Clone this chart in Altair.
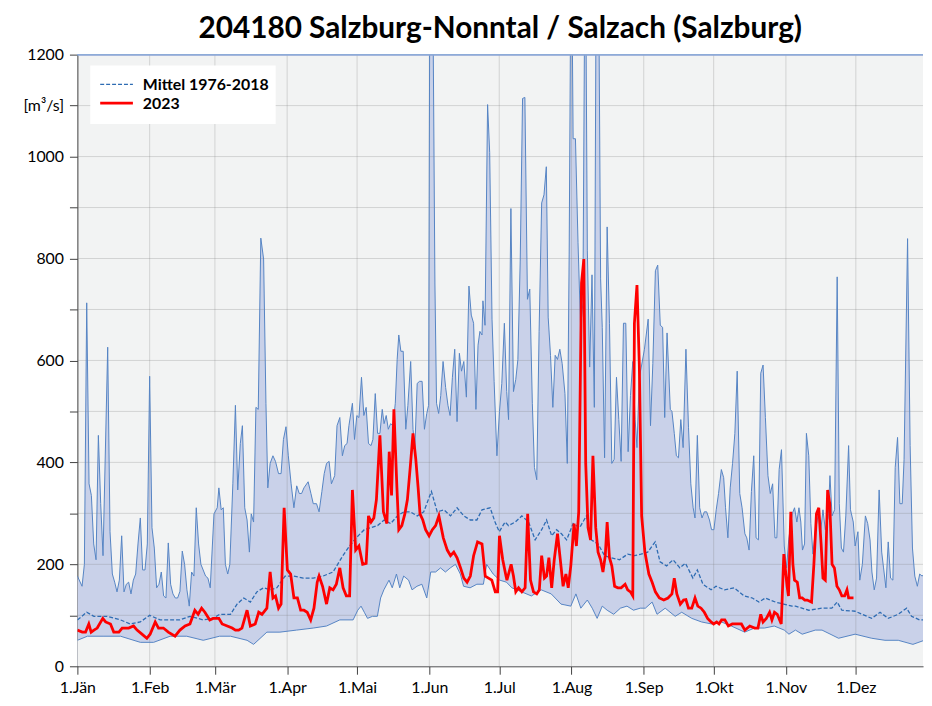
import altair as alt
import pandas as pd

TITLE = "204180 Salzburg-Nonntal / Salzach (Salzburg)"
MONTH_LABELS = ["1.Jän", "1.Feb", "1.Mär", "1.Apr", "1.Mai", "1.Jun",
                "1.Jul", "1.Aug", "1.Sep", "1.Okt", "1.Nov", "1.Dez"]
MONTH_DAYS = [0, 31, 59, 90, 120, 151, 181, 212, 243, 273, 304, 334]
Y_TICKS = list(range(0, 1201, 100))
UNIT_LABEL = "[m³/s]"
SERIES = ["Mittel 1976-2018", "2023"]

# Maximum 1976-2018 (day of year, m³/s)
max_day = [0, 2, 3, 4, 5, 6, 7, 8, 9, 10, 11, 13, 14, 15, 16, 17, 18, 19, 20, 21, 22, 23, 24, 25,
           26, 27, 28, 29, 30, 31, 32, 33, 34, 35, 36, 37, 38, 39, 40, 41, 42, 43, 44, 45, 46, 47,
           48, 49, 50, 51, 52, 53, 55, 56, 57, 58.6, 60, 60.7, 61.7, 62.6, 63.5, 64.5, 65.4, 66.7,
           67.8, 68.8, 69.9, 70.8, 71.8, 72.8, 73.8, 74.6, 75.6, 76.6, 77.6, 78.7, 79.9, 80.9, 81.7,
           82.7, 83.9, 85, 86.3, 87.4, 88.4, 89.5, 90.5, 91.7, 92.9, 94.1, 95.2, 96.2, 97.2, 99,
           100.2, 101.2, 102.6, 103.7, 104.9, 105.9, 106.9, 108, 109, 110.4, 111.4, 112.6, 113.7,
           114.7, 115.7, 116.5, 118, 118.9, 119.9, 120.8, 121.9, 122.9, 123.9, 124.9, 126, 126.8,
           127.8, 128.8, 129.8, 130.8, 131.6, 132.5, 133.4, 134.4, 135.4, 136.4, 137.2, 137.9,
           138.8, 139.8, 140.9, 141.8, 143, 144, 144.8, 145.8, 146.8, 147.9, 148.9, 149.9, 150.7,
           151.3, 152.4, 153.4, 154.1, 155, 155.9, 156.9, 158, 159, 159.9, 160.9, 161.9, 162.9,
           163.9, 164.8, 165.8, 166.9, 168, 169, 170, 171, 171.9, 172.7, 173.6, 174, 174.9, 176,
           176.9, 177.9, 178.8, 180, 181.1, 182.1, 183.2, 184.2, 185, 186, 187.1, 188.1, 189, 190,
           191, 192, 193.1, 194.1, 195.2, 196.1, 197.1, 198.1, 199.2, 200.2, 201.2, 202, 203, 204,
           205, 206, 207, 208, 209.2, 210.2, 211, 211.9, 212.7, 213.7, 214.8, 215.9, 216.9, 217.9,
           218.8, 219.8, 220.8, 221.8, 222.7, 223.6, 224.5, 225.2, 226.2, 227.3, 228.3, 229.3,
           230.3, 231.3, 232.3, 233.3, 234.3, 235.3, 236.3, 237.3, 238.3, 239.3, 240.1, 241.1,
           242.1, 243.3, 244.9, 245.9, 246.9, 248, 249, 250.1, 251.1, 252, 253, 254.4, 255.1,
           256.1, 257, 257.9, 258.9, 259.9, 261.1, 262.2, 263.2, 264.2, 265, 266, 267, 268, 269,
           270, 271.2, 272.1, 273.1, 274.1, 275.1, 276.3, 277.3, 278.1, 279.1, 280.1, 281.1, 282.1,
           283.1, 284.2, 285.2, 286.4, 287.2, 288.2, 289.2, 290.2, 291.2, 292.2, 293.2, 294.2,
           295.2, 296.3, 297.3, 298.3, 299.3, 300.1, 301.1, 302.1, 303.3, 304.3, 305.2, 306.1,
           306.7, 307.7, 308.7, 309.6, 310.4, 311.1, 312, 312.8, 313.8, 314.7, 315.6, 316.7, 318.1,
           318.9, 319.9, 320.9, 322.1, 322.9, 323.8, 324.9, 326, 326.9, 327.8, 328.7, 329.7, 330.9,
           331.7, 332.9, 333.7, 334.9, 335.7, 336.8, 338.1, 339.1, 340.1, 340.9, 341.9, 342.9, 344,
           345.1, 345.9, 346.9, 347.9, 348.9, 349.9, 350.9, 351.9, 352.9, 353.9, 354.7, 356.2,
           357.3, 358.3, 359.3, 360.4, 361.4, 362.4, 363.5, 364.7]
max_val = [177, 157, 200, 713, 358, 335, 240, 209, 453, 319, 217, 626, 264, 181, 165, 146, 169, 256,
           146, 161, 165, 142, 169, 181, 240, 291, 189, 189, 240, 569, 272, 232, 154, 161, 185, 138,
           134, 242, 161, 142, 134, 134, 147, 226, 200, 150, 118, 185, 177, 311, 240, 200, 177, 173,
           154, 299, 311, 350, 307, 311, 200, 181, 200, 358, 512, 346, 437, 472, 311, 287, 224, 299,
           283, 508, 504, 840, 799, 516, 350, 398, 413, 402, 378, 378, 445, 470, 413, 358, 311, 354,
           339, 339, 350, 362, 339, 319, 319, 303, 343, 378, 398, 402, 358, 374, 472, 488, 413, 433,
           437, 472, 516, 445, 492, 488, 567, 492, 508, 437, 433, 445, 535, 457, 457, 504, 476, 492,
           465, 476, 472, 516, 602, 650, 618, 618, 465, 512, 598, 465, 429, 555, 559, 559, 465, 496,
           512, 1500, 1400, 752, 516, 496, 531, 598, 547, 512, 492, 567, 622, 480, 614, 579, 598, 528,
           746, 689, 673, 504, 630, 657, 650, 717, 669, 1102, 1008, 681, 559, 413, 500, 555, 673, 539,
           484, 898, 539, 563, 602, 795, 1114, 1116, 720, 740, 516, 390, 366, 657, 909, 925, 980, 685,
           610, 508, 610, 602, 622, 594, 535, 398, 807, 1500, 1035, 1035, 831, 665, 713, 1500, 815,
           587, 768, 508, 1500, 1400, 760, 665, 409, 862, 673, 398, 406, 567, 484, 402, 673, 673, 421,
           531, 598, 484, 429, 567, 591, 622, 681, 472, 594, 776, 787, 669, 665, 488, 654, 504, 500,
           457, 413, 409, 484, 429, 622, 469, 358, 311, 291, 453, 311, 291, 303, 303, 287, 268, 268,
           307, 339, 386, 370, 311, 252, 350, 398, 457, 579, 339, 311, 260, 252, 228, 343, 413, 252,
           248, 575, 591, 488, 374, 339, 358, 252, 252, 386, 425, 236, 193, 248, 280, 299, 311, 283,
           311, 283, 228, 240, 457, 413, 280, 220, 268, 303, 264, 307, 268, 291, 374, 295, 307, 764,
           319, 232, 224, 295, 433, 307, 283, 236, 264, 169, 200, 295, 280, 248, 185, 150, 173, 346,
           224, 193, 154, 244, 173, 169, 390, 449, 319, 319, 406, 839, 433, 232, 177, 157, 181, 177,
           181, 193]

# Minimum 1976-2018
min_day = [0, 4.3, 11.4, 18.5, 27, 32.7, 39.8, 46.9, 54, 61, 65.7, 72.8, 75.6, 81.3, 86.9, 94,
           101.2, 106.9, 112.6, 118.3, 120.3, 121.7, 123.1, 124.5, 126.6, 128.7, 130.1, 131.5,
           133.7, 135.1, 136.9, 138.3, 140, 142.1, 143.6, 145.7, 147.8, 149.9, 151.6, 153.7, 155.8,
           157.9, 160, 162.2, 164.3, 165.7, 168.5, 171.4, 174.2, 175.6, 178.4, 181.2, 184.1, 186.4,
           190.6, 194.8, 199, 203.3, 207.5, 211.7, 213.9, 216, 218.8, 220.9, 223, 225.2, 227.3,
           230.1, 233, 235.8, 238.6, 241.5, 243.7, 246.6, 248.7, 252.2, 256.5, 259.3, 263.6, 267.8,
           272.1, 276.3, 280.6, 286.3, 290.5, 294.8, 299, 303.3, 305.3, 308.1, 311, 316.6, 319.5,
           326.6, 333.7, 340.8, 346.5, 352.2, 358.5, 363.4, 365]
min_val = [51, 59, 59, 59, 47, 47, 59, 59, 51, 59, 59, 51, 43, 67, 67, 71, 75, 79, 91, 91, 110,
           118, 106, 94, 98, 98, 134, 150, 169, 154, 181, 154, 177, 169, 150, 157, 161, 134, 185,
           185, 193, 185, 193, 200, 181, 157, 154, 161, 161, 200, 181, 169, 165, 154, 146, 138, 150,
           142, 122, 118, 142, 114, 130, 114, 94, 118, 110, 102, 114, 118, 110, 114, 114, 126, 102,
           114, 98, 106, 94, 87, 83, 87, 79, 67, 75, 75, 79, 71, 63, 71, 63, 71, 71, 55, 63, 55, 51,
           51, 43, 51, 51]

# Mittel 1976-2018
mean_day = [0, 4, 7.1, 12.8, 18.5, 22.7, 27, 31, 35.5, 39.8, 44, 48.3, 54, 58.2, 61, 62.8, 65.7,
            68.5, 71.4, 74.2, 77, 79.9, 82.7, 85.6, 89.1, 92.7, 96.9, 101.2, 105.4, 109.7, 113.9,
            116.8, 119.6, 123.1, 126, 128.8, 131.6, 134.4, 137.3, 140.1, 142.9, 145.8, 148.6, 151.9,
            154.4, 157.3, 160.1, 162.9, 165.8, 168.6, 171.4, 173.6, 177.1, 179.2, 181, 183.5, 185,
            187.9, 190.7, 193.6, 196.4, 199.2, 201.3, 203.5, 205.6, 207.7, 209.9, 212.7, 215.5,
            218.4, 220.5, 223.4, 226.2, 229, 232.6, 236.1, 239, 241.8, 244.7, 247.9, 250, 252.8,
            255.6, 258.5, 260.9, 264.1, 266, 268.4, 271.9, 274, 277.6, 281.8, 286.1, 289.6, 292.4,
            295.2, 299.5, 303, 306.6, 308.1, 313.8, 319.5, 323.7, 326, 328, 333.7, 340.8, 344.4,
            347.9, 352.2, 355.8, 357.9, 361.4, 365]
mean_val = [91, 106, 98, 98, 91, 83, 87, 100, 91, 91, 91, 98, 91, 94, 102, 102, 102, 122, 134, 126,
            146, 154, 150, 154, 177, 177, 173, 173, 177, 185, 217, 236, 252, 268, 272, 276, 287,
            280, 295, 303, 303, 295, 303, 343, 303, 307, 295, 311, 295, 287, 287, 307, 311, 283,
            264, 283, 276, 283, 295, 283, 248, 268, 287, 256, 268, 260, 248, 280, 272, 295, 248,
            240, 217, 213, 209, 220, 217, 220, 224, 244, 205, 197, 209, 193, 202, 173, 189, 161,
            150, 157, 150, 154, 138, 134, 126, 134, 126, 122, 118, 118, 110, 114, 114, 126, 110,
            108, 94, 106, 94, 102, 114, 98, 91, 91]

# 2023
y23_day = [0, 2.1, 3.5, 4.9, 5.9, 7.1, 8.5, 10.9, 12.1, 14.2, 15.6, 17.8, 19.2, 22, 24.1, 25.6,
           27.7, 29.8, 31.2, 33.4, 34.8, 36.9, 39, 41.9, 44, 46.2, 48.3, 50.4, 51.8, 53.3, 54.7,
           56.8, 58.2, 60.7, 62.1, 64.3, 66.4, 67.8, 69.2, 70.6, 72.8, 74.2, 76.3, 77.8, 79.2, 81.3,
           82.7, 83.9, 85, 86.3, 87.4, 88.7, 90.1, 91.5, 92.9, 94.4, 95.8, 97.2, 98.6, 100.1, 101.5,
           102.9, 103.7, 105.2, 106.9, 108.3, 109.7, 111.1, 112.6, 114, 115.4, 116.8, 118, 119.4,
           120.8, 122.4, 123.9, 124.9, 126, 127.2, 128.3, 129.8, 131.3, 132.8, 133.8, 134.8, 135.8,
           137.1, 137.9, 139.2, 140.5, 141.6, 142.8, 144, 145.2, 146.2, 147, 148.2, 149.4, 150.9,
           152.3, 153.7, 155.1, 157, 158.7, 160.1, 161.5, 162.9, 164.4, 165.8, 167.2, 168.6, 170,
           171.7, 173.6, 175, 176.4, 177.8, 179.3, 180.3, 181.1, 182.5, 183.9, 184.3, 186.1, 187.1,
           188.1, 189.3, 190.7, 192.1, 193.2, 194.4, 195.7, 197.1, 198.2, 199.2, 200.4, 201.3,
           202.3, 203.5, 204.6, 206, 207.2, 208.4, 209.6, 210.6, 211.7, 213.1, 214.1, 215.1, 216.3,
           217.3, 218.1, 219.1, 220.2, 221.2, 222.4, 223.4, 224.5, 225.5, 226.5, 227.3, 228.3,
           229.3, 230.5, 231.9, 233.3, 235, 236.1, 237.3, 238.3, 239, 240.1, 241.1, 242.1, 243.5,
           245.2, 246.6, 248, 249.7, 251.6, 253.4, 255.1, 256.1, 257.2, 258.7, 260.1, 261.1, 262.2,
           263.6, 265, 266.2, 267.6, 269, 270.4, 271.9, 273, 274.3, 275.3, 276.4, 277.8, 279.3, 281,
           282.8, 284.9, 286.4, 288.5, 290.6, 292, 293.2, 294.2, 295.6, 297, 298, 299.1, 300.3, 302,
           303.1, 304.5, 305.1, 306.1, 307, 307.7, 308.9, 309.9, 311, 312.1, 313.1, 315, 316, 317.1,
           318.1, 319.1, 319.9, 320.9, 321.9, 322.8, 323.8, 324.8, 325.9, 326.9, 328, 329.2, 330.2,
           330.9, 332, 333]
y23_val = [71, 67, 67, 83, 67, 71, 75, 94, 87, 83, 67, 67, 75, 75, 79, 71, 63, 55, 63, 87, 75, 75,
           67, 59, 71, 79, 83, 110, 102, 114, 106, 91, 94, 94, 83, 79, 75, 71, 71, 75, 110, 79, 83,
           106, 102, 114, 185, 134, 138, 114, 122, 311, 189, 181, 134, 134, 110, 110, 106, 91, 114,
           165, 177, 157, 122, 154, 150, 161, 193, 154, 138, 138, 346, 228, 236, 200, 202, 295, 283,
           291, 327, 453, 303, 280, 421, 335, 504, 350, 268, 276, 299, 327, 390, 457, 406, 350, 299,
           287, 268, 256, 268, 276, 295, 252, 228, 217, 224, 213, 193, 173, 165, 177, 217, 244, 240,
           177, 173, 169, 146, 146, 256, 209, 177, 169, 200, 177, 146, 154, 146, 154, 299, 169, 146,
           142, 150, 217, 173, 177, 213, 154, 209, 260, 209, 157, 181, 154, 197, 280, 236, 303, 752,
           799, 398, 272, 248, 413, 272, 224, 209, 185, 217, 283, 213, 197, 157, 154, 154, 161, 150,
           146, 138, 673, 748, 591, 295, 224, 181, 165, 146, 134, 130, 134, 142, 173, 142, 122, 130,
           131, 114, 114, 134, 118, 114, 106, 94, 87, 83, 87, 83, 91, 91, 79, 83, 83, 83, 71, 79, 75,
           75, 102, 87, 94, 106, 91, 106, 102, 83, 220, 157, 138, 303, 200, 169, 165, 134, 134, 130,
           130, 126, 200, 299, 311, 240, 173, 169, 346, 319, 200, 193, 157, 150, 138, 138, 150, 134,
           134, 134]

BAND = "#c9d1e9"
PLOT_BG = "#f2f3f3"
LINE_BLUE = "#5584c3"
MEAN_BLUE = "#2e6cb3"
RED = "#ff0000"
FONT = "Lato"

df_max = pd.DataFrame({"day": max_day, "value": max_val})
df_min = pd.DataFrame({"day": min_day, "value": min_val})
df_mean = pd.DataFrame({"day": mean_day, "value": mean_val})
df_23 = pd.DataFrame({"day": y23_day, "value": y23_val})
df_hgrid = pd.DataFrame({"v": Y_TICKS[1:-1]})
df_vgrid = pd.DataFrame({"d": MONTH_DAYS[1:]})

x_expr = " : ".join(f"datum.value == {d} ? '{l}'" for d, l in zip(MONTH_DAYS, MONTH_LABELS)) + " : ''"
y_expr = f"datum.value == 1100 ? '{UNIT_LABEL}' : (datum.value % 200 == 0 ? datum.label : '')"

PLOT_W = 853
xscale = alt.Scale(domain=[0, PLOT_W / 2.351], nice=False, zero=False)
yscale = alt.Scale(domain=[0, 1200], nice=False)

xaxis = alt.Axis(values=MONTH_DAYS, labelExpr=x_expr, title=None, grid=False,
                 tickSize=8, labelPadding=5, labelFontSize=16, labelFont=FONT,
                 labelColor="black", domainColor="#404040", tickColor="#404040",
                 labelOverlap=False, labelFlush=False)
yaxis = alt.Axis(values=Y_TICKS, labelExpr=y_expr, format="d", title=None, grid=False,
                 tickSize=8, labelPadding=6, labelFontSize=16, labelFont=FONT,
                 labelColor="black", domainColor="#404040", tickColor="#404040")

X = alt.X("day:Q", scale=xscale, axis=xaxis)
Y = alt.Y("value:Q", scale=yscale, axis=yaxis)

area_max = alt.Chart(df_max).mark_area(color=BAND, clip=True).encode(x=X, y=Y)
area_min = alt.Chart(df_min).mark_area(color=PLOT_BG, clip=True).encode(x=X, y=Y)
hgrid = alt.Chart(df_hgrid).mark_rule(color="#808080", opacity=0.28).encode(y=alt.Y("v:Q", scale=yscale))
vgrid = alt.Chart(df_vgrid).mark_rule(color="#808080", opacity=0.28).encode(x=alt.X("d:Q", scale=xscale))
line_max = alt.Chart(df_max).mark_line(color=LINE_BLUE, strokeWidth=1, clip=True).encode(x=X, y=Y)
line_min = alt.Chart(df_min).mark_line(color=LINE_BLUE, strokeWidth=1, clip=True).encode(x=X, y=Y)
line_mean = alt.Chart(df_mean).mark_line(color=MEAN_BLUE, strokeWidth=1.3, strokeDash=[4, 2],
                                         clip=True).encode(x=X, y=Y)
line_23 = alt.Chart(df_23).mark_line(color=RED, strokeWidth=2.8, clip=True).encode(x=X, y=Y)
top_rule = alt.Chart(df_hgrid).mark_rule(color="#8eaad8", strokeWidth=1).encode(y=alt.datum(1200))

# Legend box (decoration, pixel-placed inside the plot area)
df_leg = pd.DataFrame({"label": SERIES})
leg_box = alt.Chart(df_leg.head(1)).mark_rect(color="white").encode(
    x=alt.value(13), x2=alt.value(200), y=alt.value(11), y2=alt.value(70))
leg_l1 = alt.Chart(df_leg.head(1)).mark_rule(color=MEAN_BLUE, strokeWidth=1.3, strokeDash=[4, 2]).encode(
    x=alt.value(23), x2=alt.value(56), y=alt.value(30))
leg_l2 = alt.Chart(df_leg.tail(1)).mark_rule(color=RED, strokeWidth=2.8).encode(
    x=alt.value(23), x2=alt.value(56), y=alt.value(49))
leg_t1 = alt.Chart(df_leg.head(1)).mark_text(align="left", baseline="middle", font=FONT, fontSize=16,
                                             fontWeight="bold", color="black").encode(
    x=alt.value(66), y=alt.value(31), text="label:N")
leg_t2 = alt.Chart(df_leg.tail(1)).mark_text(align="left", baseline="middle", font=FONT, fontSize=16,
                                             fontWeight="bold", color="black").encode(
    x=alt.value(66), y=alt.value(50), text="label:N")

chart = alt.layer(area_max, area_min, hgrid, vgrid, line_max, line_min, line_mean, line_23, top_rule,
                  leg_box, leg_l1, leg_l2, leg_t1, leg_t2).properties(
    width=PLOT_W, height=617,
    title=alt.TitleParams(TITLE, font=FONT, fontSize=30, fontWeight="bold", anchor="middle",
                          color="black", offset=3),
    padding={"left": 15, "top": 3, "right": 0, "bottom": 5},
    background="white",
).configure_view(fill=PLOT_BG, stroke=None)

chart.save("out.html", embed_options={"renderer": "svg", "actions": False})
